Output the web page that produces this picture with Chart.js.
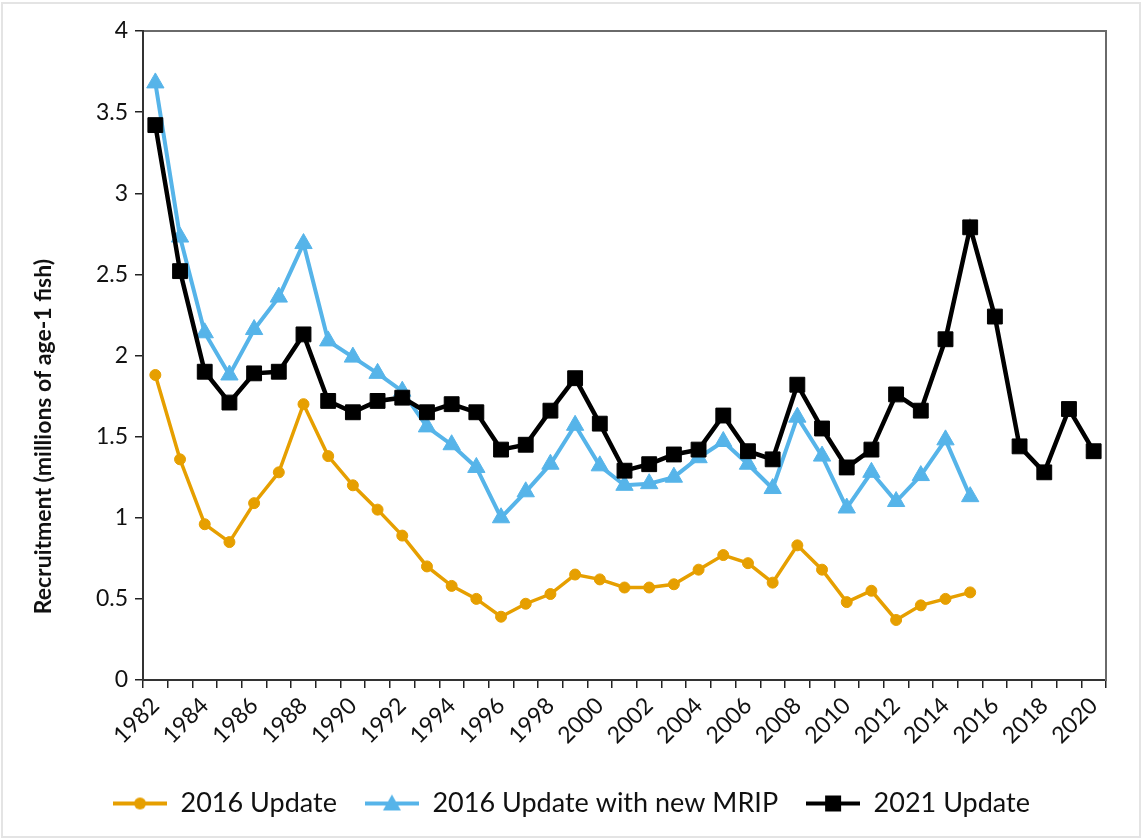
<!DOCTYPE html>
<html>
<head>
<meta charset="utf-8">
<script src="https://cdn.jsdelivr.net/npm/chart.js@4"></script>
<style>
  body { margin: 0; background: #fff; }
  #wrap { position: relative; width: 1143px; height: 840px; }
  #frame { position: absolute; left: 1px; top: 2px; width: 1136px; height: 832px; border: 2px solid #e4e4e4; pointer-events: none; }
</style>
</head>
<body>
<div id="wrap">
  <canvas id="chart" width="1143" height="840"></canvas>
  <div id="frame"></div>
</div>
<script>
const years = [];
for (let y = 1982; y <= 2020; y++) years.push(String(y));

const update2016 = [1.88, 1.36, 0.96, 0.85, 1.09, 1.28, 1.70, 1.38, 1.20, 1.05,
  0.89, 0.70, 0.58, 0.50, 0.39, 0.47, 0.53, 0.65, 0.62, 0.57,
  0.57, 0.59, 0.68, 0.77, 0.72, 0.60, 0.83, 0.68, 0.48, 0.55,
  0.37, 0.46, 0.50, 0.54];

const update2016Mrip = [3.68, 2.73, 2.14, 1.88, 2.16, 2.36, 2.69, 2.09, 1.99, 1.89,
  1.78, 1.56, 1.45, 1.31, 1.00, 1.16, 1.33, 1.57, 1.32, 1.20,
  1.21, 1.25, 1.37, 1.47, 1.33, 1.18, 1.62, 1.38, 1.06, 1.28,
  1.10, 1.26, 1.48, 1.13];

const update2021 = [3.42, 2.52, 1.90, 1.71, 1.89, 1.90, 2.13, 1.72, 1.65, 1.72,
  1.74, 1.65, 1.70, 1.65, 1.42, 1.45, 1.66, 1.86, 1.58, 1.29,
  1.33, 1.39, 1.42, 1.63, 1.41, 1.36, 1.82, 1.55, 1.31, 1.42,
  1.76, 1.66, 2.10, 2.79, 2.24, 1.44, 1.28, 1.67, 1.41];

const yTicks = [0, 0.5, 1, 1.5, 2, 2.5, 3, 3.5, 4];

const ORANGE = "#E69F00";
const BLUE = "#56B4E9";
const BLACK = "#000000";
const FONT = "Lato, 'Open Sans', sans-serif";

// legend icon: short line with the marker in the middle
const legendIcon = (color, shape) => {
  const c = document.createElement("canvas");
  c.width = 54;
  c.height = 22;
  const g = c.getContext("2d");
  g.strokeStyle = color;
  g.fillStyle = color;
  g.lineWidth = 4;
  g.beginPath();
  g.moveTo(0, 11);
  g.lineTo(54, 11);
  g.stroke();
  g.beginPath();
  if (shape === "circle") {
    g.arc(27, 11, 6, 0, Math.PI * 2);
  } else if (shape === "triangle") {
    g.moveTo(27, 2);
    g.lineTo(36, 18);
    g.lineTo(18, 18);
    g.closePath();
  } else {
    g.rect(19, 3, 16, 16);
  }
  g.fill();
  return c;
};
const icons = [legendIcon(ORANGE, "circle"), legendIcon(BLUE, "triangle"), legendIcon(BLACK, "rect")];

// y axis title drawn a bit below centre, like the original
const yTitlePlugin = {
  id: "yTitle",
  afterDraw(chart) {
    const { ctx, chartArea } = chart;
    ctx.save();
    ctx.translate(44, chartArea.top + 0.625 * (chartArea.bottom - chartArea.top));
    ctx.rotate(-Math.PI / 2);
    ctx.font = "bold 23px " + FONT;
    ctx.fillStyle = "#111";
    ctx.textAlign = "center";
    ctx.textBaseline = "middle";
    ctx.fillText("Recruitment (millions of age-1 fish)", 0, 0);
    ctx.restore();
  },
};

new Chart(document.getElementById("chart").getContext("2d"), {
  type: "line",
  data: {
    labels: years,
    datasets: [
      {
        label: "2016 Update",
        data: update2016,
        borderColor: ORANGE,
        backgroundColor: ORANGE,
        borderWidth: 3.5,
        pointStyle: "circle",
        pointRadius: 5.5,
        pointBorderWidth: 1,
        order: 3,
      },
      {
        label: "2016 Update with new MRIP",
        data: update2016Mrip,
        borderColor: BLUE,
        backgroundColor: BLUE,
        borderWidth: 4,
        pointStyle: "triangle",
        pointRadius: 10,
        pointBorderWidth: 1,
        order: 2,
      },
      {
        label: "2021 Update",
        data: update2021,
        borderColor: BLACK,
        backgroundColor: BLACK,
        borderWidth: 4.5,
        pointStyle: "rect",
        pointRadius: 10.5,
        pointBorderWidth: 1,
        order: 1,
      },
    ],
  },
  options: {
    responsive: false,
    animation: false,
    layout: { padding: { left: 0, right: 0, top: 0, bottom: 13 } },
    scales: {
      x: {
        type: "category",
        offset: true,
        grid: { offset: true, drawOnChartArea: false, drawTicks: true, tickLength: 8, color: "#222", lineWidth: 1.5 },
        border: { color: "#333", width: 2 },
        ticks: {
          autoSkip: false,
          minRotation: 45,
          maxRotation: 45,
          padding: 4,
          color: "#111",
          font: { family: FONT, size: 23 },
          callback: function (val, i) {
            return i % 2 === 0 ? this.getLabelForValue(val) : "";
          },
        },
        afterFit: (s) => { s.height = 82; },
      },
      x2: {
        type: "category",
        position: "top",
        offset: true,
        grid: { display: false },
        border: { display: true, color: "#6a6a6a", width: 2 },
        ticks: { display: false },
        afterFit: (s) => { s.height = 31; },
      },
      y: {
        min: 0,
        max: 4,
        afterBuildTicks: (s) => { s.ticks = yTicks.map((v) => ({ value: v })); },
        grid: { drawOnChartArea: false, drawTicks: true, tickLength: 8, color: "#222", lineWidth: 1.5 },
        border: { color: "#333", width: 2 },
        ticks: {
          padding: 7,
          color: "#111",
          font: { family: FONT, size: 23 },
          callback: (v) => String(v),
        },
        afterFit: (s) => { s.width = 143; },
      },
      y2: {
        position: "right",
        min: 0,
        max: 4,
        grid: { display: false },
        border: { display: true, color: "#6a6a6a", width: 2 },
        ticks: { display: false },
        afterFit: (s) => { s.width = 37; },
      },
    },
    plugins: {
      legend: {
        position: "bottom",
        labels: {
          usePointStyle: true,
          pointStyleWidth: 54,
          padding: 28,
          color: "#111",
          font: { family: FONT, size: 27 },
          sort: (a, b) => a.datasetIndex - b.datasetIndex,
          generateLabels: (chart) =>
            chart.data.datasets.map((ds, i) => ({
              text: ds.label,
              pointStyle: icons[i],
              fillStyle: ds.borderColor,
              strokeStyle: ds.borderColor,
              lineWidth: 0,
              hidden: false,
              datasetIndex: i,
              fontColor: "#111",
            })),
        },
      },
      tooltip: { enabled: false },
    },
  },
  plugins: [yTitlePlugin],
});
</script>
</body>
</html>
